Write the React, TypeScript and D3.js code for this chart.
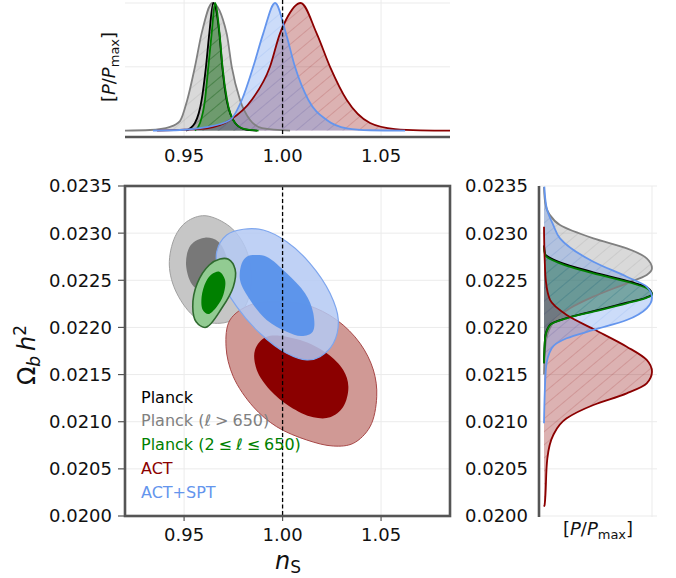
import React from 'react';
import * as d3 from 'd3';

type P = [number, number];

// ---- ticks ----
const nsTicks = [0.95, 1.0, 1.05];
const ombTicks = [0.02, 0.0205, 0.021, 0.0215, 0.022, 0.0225, 0.023, 0.0235];
const probTicksTop = [0.5, 1.0];
const probTicksRight = [1.0];
const nsReference = 1.0;

// ---- 2D contours [n_s, Omega_b h^2] ----
const planckHighL2s: P[] = [[0.9606,0.023185],[0.9733,0.023068],[0.9809,0.022856],[0.9843,0.022538],[0.9818,0.022256],[0.9759,0.022097],[0.9682,0.022044],[0.9564,0.022097],[0.9463,0.022362],[0.9425,0.022662],[0.9454,0.022962],[0.9513,0.023121]];
const planckHighL1s: P[] = [[0.9606,0.022952],[0.9674,0.022909],[0.9719,0.022715],[0.9708,0.022503],[0.9632,0.022379],[0.955,0.022432],[0.951,0.022662],[0.9534,0.022874]];
const planckLowL2s: P[] = [[0.9725,0.022723],[0.9759,0.022617],[0.975,0.022432],[0.9691,0.022203],[0.9611,0.022001],[0.9561,0.022061],[0.9544,0.02222],[0.9567,0.022468],[0.9628,0.022662],[0.9682,0.022726]];
const planckLowL1s: P[] = [[0.9679,0.022591],[0.9708,0.022503],[0.9699,0.022344],[0.9666,0.02222],[0.9623,0.022142],[0.9595,0.022185],[0.9589,0.022326],[0.9611,0.022485],[0.964,0.022563]];
const act2s: P[] = [[0.997,0.022273],[1.0123,0.022238],[1.0275,0.022079],[1.0393,0.021832],[1.0461,0.021548],[1.0478,0.021265],[1.0444,0.020947],[1.0359,0.020771],[1.0258,0.020742],[1.0123,0.020806],[0.997,0.020947],[0.9851,0.021159],[0.975,0.021477],[0.9713,0.021796],[0.9733,0.022079],[0.9835,0.022238]];
const act1s: P[] = [[0.9919,0.021902],[1.0089,0.021867],[1.0224,0.021726],[1.0308,0.021548],[1.0334,0.021371],[1.0308,0.021159],[1.0241,0.021047],[1.0156,0.021047],[1.0038,0.021159],[0.9936,0.021336],[0.9869,0.021548],[0.986,0.021761]];
const actSpt2s: P[] = [[0.9801,0.023041],[0.9902,0.023033],[1.0021,0.022909],[1.0139,0.02268],[1.0241,0.022362],[1.0283,0.022079],[1.0258,0.021832],[1.019,0.02169],[1.0123,0.021655],[1.0021,0.021726],[0.9885,0.021938],[0.9767,0.02222],[0.9682,0.022538],[0.9666,0.022803],[0.9716,0.02298]];
const actSpt1s: P[] = [[0.986,0.022768],[0.9919,0.02275],[1.0021,0.022574],[1.0114,0.022362],[1.0156,0.02215],[1.0153,0.021955],[1.0097,0.021909],[1.0021,0.021955],[0.9919,0.022079],[0.9835,0.022291],[0.9784,0.022503],[0.9793,0.02268],[0.9818,0.02275]];

// ---- 1D marginals for n_s: [n_s, P/Pmax] ----
const planckHighLNs: P[] = [[0.92,0],[0.9327,0.005],[0.9429,0.03],[0.9479,0.075],[0.9516,0.24],[0.9555,0.5],[0.9589,0.762],[0.9644,1.0],[0.9716,0.762],[0.9742,0.5],[0.9784,0.24],[0.9835,0.083],[0.9896,0.02],[1.0038,0]];
const planckNs: P[] = [[0.951,0],[0.9555,0.06],[0.9589,0.24],[0.9611,0.5],[0.9628,0.762],[0.9648,1.0],[0.9679,0.762],[0.9694,0.5],[0.9716,0.24],[0.9759,0.06],[0.9809,0.01],[0.987,0]];
const planckLowLNs: P[] = [[0.9555,0],[0.9581,0.06],[0.9606,0.24],[0.9623,0.5],[0.964,0.762],[0.9657,1.0],[0.968,0.762],[0.9695,0.5],[0.9718,0.24],[0.9759,0.06],[0.9809,0.012],[0.9878,0]];
const actNs: P[] = [[0.9363,0],[0.9505,0.008],[0.9615,0.018],[0.9733,0.083],[0.9843,0.24],[0.9936,0.5],[0.9987,0.762],[1.0017,0.867],[1.0092,1.0],[1.0173,0.762],[1.0241,0.5],[1.0326,0.24],[1.0444,0.06],[1.0571,0.012],[1.0698,0.002],[1.085,0]];
const actSptNs: P[] = [[0.9342,0],[0.9479,0.005],[0.9606,0.025],[0.9733,0.083],[0.9793,0.24],[0.9851,0.5],[0.9902,0.762],[0.9962,1.0],[1.0017,0.762],[1.0063,0.5],[1.0131,0.24],[1.0224,0.083],[1.0326,0.018],[1.0444,0.003],[1.0622,0]];

// ---- 1D marginals for Omega_b h^2: [ombh2, P/Pmax] ----
const planckHighLOmb: P[] = [[0.02349,0],[0.023333,0.01],[0.0232,0.05],[0.023086,0.148],[0.022945,0.457],[0.022839,0.766],[0.022733,0.951],[0.022627,1.0],[0.022556,0.951],[0.022468,0.766],[0.022326,0.457],[0.022203,0.24],[0.022097,0.117],[0.021955,0.04],[0.021779,0.01],[0.0215,0]];
const planckOmb: P[] = [[0.02287,0],[0.02278,0.01],[0.02269,0.148],[0.022585,0.457],[0.022495,0.766],[0.022425,0.951],[0.022352,1.0],[0.022315,0.94],[0.022262,0.766],[0.022172,0.457],[0.0221,0.21],[0.02203,0.056],[0.02189,0.01],[0.02162,0]];
const planckLowLOmb: P[] = [[0.022856,0],[0.022768,0.01],[0.02268,0.148],[0.022574,0.457],[0.022485,0.766],[0.022415,0.951],[0.022344,1.0],[0.022309,0.935],[0.022256,0.766],[0.022167,0.457],[0.022097,0.21],[0.022026,0.056],[0.021885,0.01],[0.02162,0]];
const actOmb: P[] = [[0.023068,0],[0.022733,0.006],[0.022485,0.018],[0.022291,0.056],[0.022132,0.21],[0.021983,0.457],[0.021796,0.766],[0.021655,0.951],[0.02153,1.0],[0.021407,0.951],[0.021301,0.766],[0.021177,0.457],[0.021036,0.21],[0.020859,0.086],[0.020612,0.031],[0.020117,0.006],[0.0201,0]];
const actSptOmb: P[] = [[0.023493,0.003],[0.023263,0.025],[0.023086,0.086],[0.022945,0.148],[0.022697,0.457],[0.022538,0.766],[0.022432,0.951],[0.022315,1.0],[0.022203,0.951],[0.022079,0.766],[0.021973,0.457],[0.021885,0.21],[0.021779,0.071],[0.021567,0.018],[0.020983,0]];

const series1D = [
  { key: 'gray', top: planckHighLNs, right: planckHighLOmb, color: '#808080', fillOp: 0.3 },
  { key: 'black', top: planckNs, right: planckOmb, color: '#000000', fillOp: 0.22 },
  { key: 'green', top: planckLowLNs, right: planckLowLOmb, color: '#008000', fillOp: 0.35 },
  { key: 'red', top: actNs, right: actOmb, color: '#8b0000', fillOp: 0.3 },
  { key: 'blue', top: actSptNs, right: actSptOmb, color: '#6495ed', fillOp: 0.33 },
];

const FONT = '"DejaVu Sans", Verdana, sans-serif';
const SPINE = '#555555';
const GRID = '#ebebeb';

export default function App() {
  const x = d3.scaleLinear().domain([0.92, 1.085]).range([125, 450]);
  const y = d3.scaleLinear().domain([0.02, 0.0235]).range([516, 186]);
  const yT = d3.scaleLinear().domain([-0.05, 1.0]).range([137, 3]);
  const xR = d3.scaleLinear().domain([-0.05, 1.0]).range([538.6, 652]);

  const contour = d3.line<P>().x(d => x(d[0])).y(d => y(d[1])).curve(d3.curveCatmullRomClosed.alpha(0.5));
  const topLine = d3.line<P>().x(d => x(d[0])).y(d => yT(d[1])).curve(d3.curveMonotoneX);
  const topArea = d3.area<P>().x(d => x(d[0])).y0(yT(0)).y1(d => yT(d[1])).curve(d3.curveMonotoneX);
  const rLine = d3.line<P>().x(d => xR(d[1])).y(d => y(d[0])).curve(d3.curveMonotoneY);
  const rArea = d3.area<P>().y(d => y(d[0])).x0(xR(0)).x1(d => xR(d[1])).curve(d3.curveMonotoneY);

  const fmtY = d3.format('.4f');
  const fmtX = d3.format('.2f');

  const legend = [
    { label: 'Planck', color: '#000000' },
    { label: 'Planck (\u2113\u2005>\u2005650)', color: '#808080' },
    { label: 'Planck (2\u2005\u2264\u2005\u2113\u2005\u2264\u2005650)', color: '#008000' },
    { label: 'ACT', color: '#8b0000' },
    { label: 'ACT+SPT', color: '#6495ed' },
  ];

  const pLabel = (
    <>
      [<tspan fontStyle="italic">P</tspan>/<tspan fontStyle="italic">P</tspan>
      <tspan fontSize={13} dy={4}>max</tspan>
      <tspan dy={-4}>]</tspan>
    </>
  );

  return (
    <svg width={676} height={578} style={{ position: 'absolute', left: 0, top: 0, background: '#fff' }} fontFamily={FONT}>
      <defs>
        {series1D.map(s => (
          <pattern key={s.key} id={`hatch-${s.key}`} patternUnits="userSpaceOnUse" width={10} height={10} patternTransform="rotate(50)">
            <line x1={0} y1={-2} x2={0} y2={12} stroke={s.color} strokeWidth={1} strokeOpacity={0.3} />
          </pattern>
        ))}
        <clipPath id="clipTop"><rect x={125} y={0} width={325} height={137} /></clipPath>
        <clipPath id="clipRight"><rect x={539} y={186} width={120} height={331} /></clipPath>
        <clipPath id="clipMain"><rect x={125} y={186} width={325} height={330} /></clipPath>
      </defs>

      {/* ===== TOP PANEL ===== */}
      <g>
        {nsTicks.map(t => (
          <line key={t} x1={x(t)} x2={x(t)} y1={0} y2={137} stroke={GRID} strokeWidth={1} />
        ))}
        {probTicksTop.map(t => (
          <line key={t} x1={125} x2={450} y1={yT(t)} y2={yT(t)} stroke={GRID} strokeWidth={1} />
        ))}
        <g clipPath="url(#clipTop)">
          {series1D.map(s => (
            <g key={s.key}>
              <path d={topArea(s.top) || ''} fill={s.color} fillOpacity={s.fillOp} />
              <path d={topArea(s.top) || ''} fill={`url(#hatch-${s.key})`} />
            </g>
          ))}
          {series1D.map(s => (
            <path key={s.key} d={topLine(s.top) || ''} fill="none" stroke={s.color} strokeWidth={1.8} />
          ))}
        </g>
        <line x1={x(nsReference)} x2={x(nsReference)} y1={0} y2={137} stroke="#000" strokeWidth={1.3} strokeDasharray="4,2.5" />
        <line x1={125} x2={450} y1={137} y2={137} stroke={SPINE} strokeWidth={2.6} />
        {nsTicks.map(t => (
          <text key={t} x={x(t)} y={162} textAnchor="middle" fontSize={18} fill="#111">{fmtX(t)}</text>
        ))}
        <text transform="translate(115,67) rotate(-90)" textAnchor="middle" fontSize={18} fill="#111">{pLabel}</text>
      </g>

      {/* ===== MAIN PANEL ===== */}
      <g>
        {nsTicks.map(t => (
          <line key={t} x1={x(t)} x2={x(t)} y1={186} y2={516} stroke={GRID} strokeWidth={1} />
        ))}
        {ombTicks.map(t => (
          <line key={t} x1={125} x2={450} y1={y(t)} y2={y(t)} stroke={GRID} strokeWidth={1} />
        ))}
        <g clipPath="url(#clipMain)">
          <path d={contour(planckHighL2s) || ''} fill="#c6c6c6" stroke="#a0a0a0" strokeWidth={1} />
          <path d={contour(planckHighL1s) || ''} fill="#787878" />
          <path d={contour(act2s) || ''} fill="#d09995" stroke="#a84848" strokeWidth={1} />
          <path d={contour(act1s) || ''} fill="#8b0000" />
          <path d={contour(actSpt2s) || ''} fill="#b4c9f3" fillOpacity={0.85} stroke="#7ea6ee" strokeWidth={1.2} />
          <path d={contour(actSpt1s) || ''} fill="#5a93ea" fillOpacity={0.97} />
          <path d={contour(planckLowL2s) || ''} fill="#92cb92" stroke="#2f6a2f" strokeWidth={1.6} />
          <path d={contour(planckLowL1s) || ''} fill="#008000" />
        </g>
        <line x1={x(nsReference)} x2={x(nsReference)} y1={186} y2={516} stroke="#000" strokeWidth={1.3} strokeDasharray="4,2.5" />
        <rect x={125} y={186} width={325} height={330} fill="none" stroke={SPINE} strokeWidth={2.6} />
        {ombTicks.map(t => (
          <g key={t}>
            <line x1={118} x2={125} y1={y(t)} y2={y(t)} stroke={SPINE} strokeWidth={1.2} />
            <text x={112} y={y(t)} dy="0.36em" textAnchor="end" fontSize={18} fill="#111">{fmtY(t)}</text>
          </g>
        ))}
        {nsTicks.map(t => (
          <g key={t}>
            <line x1={x(t)} x2={x(t)} y1={516} y2={521} stroke={SPINE} strokeWidth={1.2} />
            <text x={x(t)} y={541} textAnchor="middle" fontSize={18} fill="#111">{fmtX(t)}</text>
          </g>
        ))}
        {legend.map((l, i) => (
          <text key={l.label} x={141} y={402.5 + i * 23.9} fontSize={16} fill={l.color}>{l.label}</text>
        ))}
        <text x={288} y={569} textAnchor="middle" fontSize={24} fill="#111">
          <tspan fontStyle="italic">n</tspan>
          <tspan fontSize={17} dy={4}>S</tspan>
        </text>
        <text transform="translate(35,355) rotate(-90)" textAnchor="middle" fontSize={24} fill="#111">
          Ω<tspan fontStyle="italic" fontSize={17} dy={5}>b</tspan>
          <tspan fontStyle="italic" dy={-5}>{'\u2009h'}</tspan>
          <tspan fontSize={17} dy={-9}>2</tspan>
        </text>
      </g>

      {/* ===== RIGHT PANEL ===== */}
      <g>
        {ombTicks.map(t => (
          <line key={t} x1={539} x2={657} y1={y(t)} y2={y(t)} stroke={GRID} strokeWidth={1} />
        ))}
        {probTicksRight.map(t => (
          <line key={t} x1={xR(t)} x2={xR(t)} y1={186} y2={517} stroke={GRID} strokeWidth={1} />
        ))}
        <g clipPath="url(#clipRight)">
          {series1D.map(s => (
            <g key={s.key}>
              <path d={rArea(s.right) || ''} fill={s.color} fillOpacity={s.fillOp} />
              <path d={rArea(s.right) || ''} fill={`url(#hatch-${s.key})`} />
            </g>
          ))}
          {series1D.map(s => (
            <path key={s.key} d={rLine(s.right) || ''} fill="none" stroke={s.color} strokeWidth={1.8} />
          ))}
        </g>
        <line x1={539} x2={539} y1={186} y2={517} stroke={SPINE} strokeWidth={2.6} />
        {ombTicks.map(t => (
          <text key={t} x={528} y={y(t)} dy="0.36em" textAnchor="end" fontSize={18} fill="#111">{fmtY(t)}</text>
        ))}
        <text x={598} y={535} textAnchor="middle" fontSize={18} fill="#111">{pLabel}</text>
      </g>
    </svg>
  );
}
